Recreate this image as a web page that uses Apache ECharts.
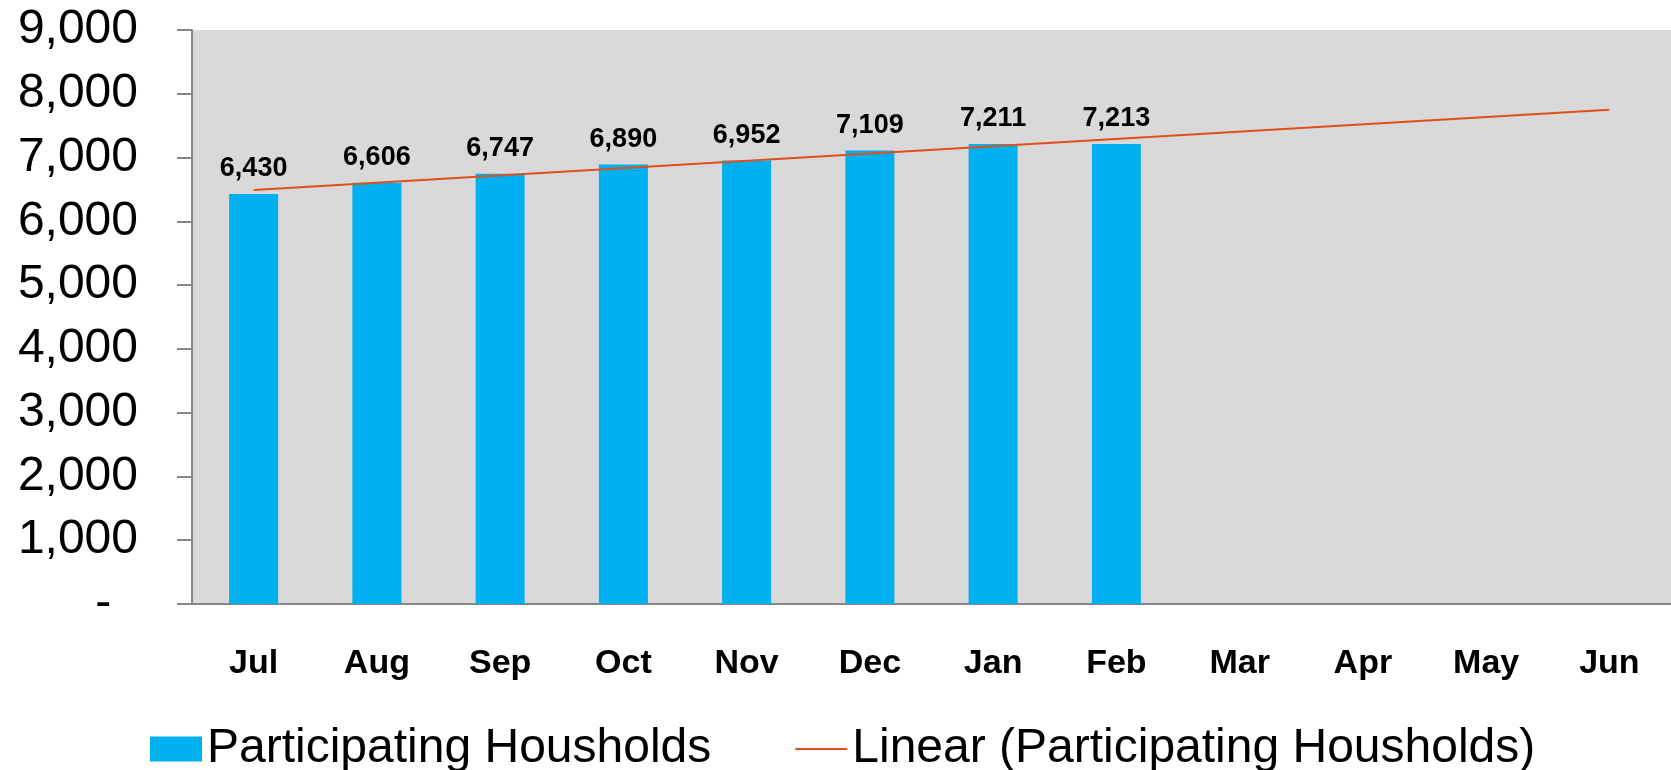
<!DOCTYPE html>
<html lang="en">
  <head>
    <meta charset="UTF-8" />
    <title>Participating Housholds</title>
    <script src="https://cdn.jsdelivr.net/npm/echarts@6.0.0/dist/echarts.min.js"></script>
    <style>
      body {
        margin: 0;
        overflow: hidden;
        background: #fff;
      }
      #main {
        width: 1671px;
        height: 770px;
      }
    </style>
  </head>
  <body>
    <div id="main"></div>
    <script type="text/javascript">
      var chart = echarts.init(document.getElementById("main"))

      // months of the fiscal year
      const months = ["Jul", "Aug", "Sep", "Oct", "Nov", "Dec", "Jan", "Feb", "Mar", "Apr", "May", "Jun"]
      // participating households, Jul..Feb
      const households = [6430, 6606, 6747, 6890, 6952, 7109, 7211, 7213]
      // trend line end points
      const trendMonths = ["Jul", "Jun"]
      const trendValues = [6490, 7750]

      const font = "'Liberation Sans', Arial, sans-serif"
      const axisGray = "#868686"
      const trendColor = "#E0501A"

      const option = {
        animation: false,
        grid: {
          left: 192,
          top: 30,
          right: -4,
          bottom: 166,
          show: true,
          backgroundColor: "#D9D9D9",
          borderWidth: 0,
        },
        legend: {
          left: 150,
          top: 725,
          padding: 0,
          itemWidth: 52,
          itemHeight: 25,
          itemGap: 84,
          textStyle: { fontSize: 48, color: "#000", fontFamily: font },
          data: [
            { name: "Participating Housholds", icon: "rect" },
            {
              name: "Linear (Participating Housholds)",
              // thin line icon, the legend keeps its aspect
              icon: "path://M0,0 L52,0 L52,2 L0,2 Z",
              itemStyle: { color: trendColor },
            },
          ],
        },
        xAxis: {
          type: "category",
          data: months,
          axisLine: { lineStyle: { color: axisGray, width: 2 } },
          axisTick: { length: 13, lineStyle: { color: axisGray, width: 2 } },
          axisLabel: {
            margin: 43,
            fontSize: 34,
            fontWeight: "bold",
            color: "#000",
            fontFamily: font,
          },
          splitLine: { show: false },
        },
        yAxis: {
          type: "value",
          min: 0,
          max: 9000,
          interval: 1000,
          axisLine: { show: true, lineStyle: { color: axisGray, width: 2 } },
          axisTick: { show: true, length: 15, lineStyle: { color: axisGray, width: 2 } },
          splitLine: { show: false },
          axisLabel: {
            margin: 54,
            fontSize: 48,
            color: "#000",
            fontFamily: font,
            formatter: function (v) {
              return v === 0 ? "-  " : v.toLocaleString("en-US")
            },
          },
        },
        series: [
          {
            name: "Participating Housholds",
            type: "bar",
            data: households,
            barWidth: 49,
            itemStyle: { color: "#00B0F0" },
            label: {
              show: true,
              position: "top",
              distance: 12,
              fontSize: 27,
              fontWeight: "bold",
              color: "#000",
              fontFamily: font,
              formatter: function (p) {
                return p.value.toLocaleString("en-US")
              },
            },
          },
          {
            name: "Linear (Participating Housholds)",
            type: "line",
            data: trendMonths.map(function (m, i) {
              return [m, trendValues[i]]
            }),
            symbol: "none",
            lineStyle: { color: trendColor, width: 2 },
            itemStyle: { color: trendColor },
            z: 3,
          },
        ],
      }

      chart.setOption(option)
    </script>
  </body>
</html>
